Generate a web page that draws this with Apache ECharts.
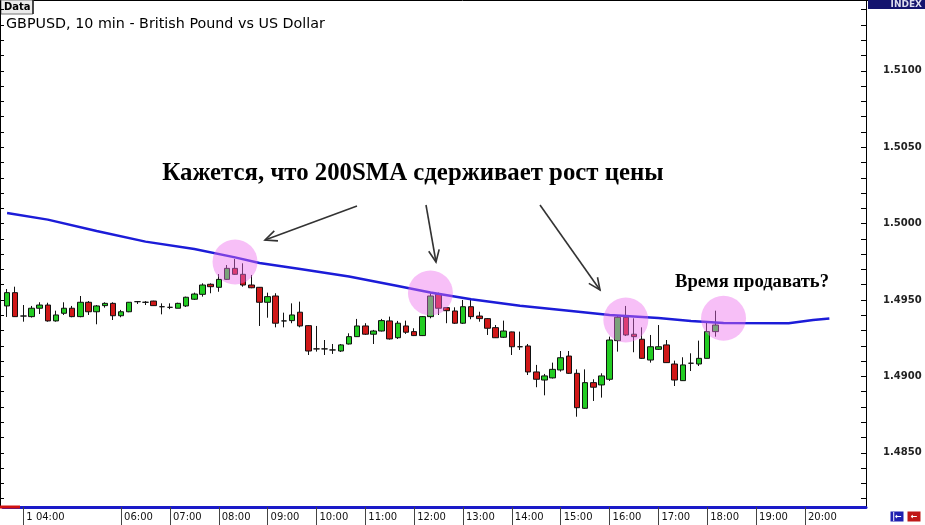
<!DOCTYPE html>
<html><head><meta charset="utf-8">
<script src="https://cdn.jsdelivr.net/npm/echarts@6/dist/echarts.min.js"></script>
<style>html,body{margin:0;padding:0;background:#fff}#c{width:925px;height:525px}</style>
</head><body><div id="c"></div>
<script>
// ---- categories: 10-minute bars starting 03:40 ----
const categoryCount = 106;
const categories = [];
for (let i = 0; i < categoryCount; i++) {
  const m = 3 * 60 + 40 + i * 10;
  categories.push(String(Math.floor(m / 60) % 24).padStart(2, '0') + ':' + String(m % 60).padStart(2, '0'));
}
const hourLabels = ['04:00','06:00','07:00','08:00','09:00','10:00','11:00','12:00','13:00','14:00','15:00','16:00','17:00','18:00','19:00','20:00'];
const firstLabelPrefix = '1 ';

// ---- candle values ----
const candleOpen = [1.49461,1.49548,1.49395,1.49391,1.49446,1.49467,1.49363,1.49413,1.49446,1.49391,
1.49485,1.49423,1.49463,1.49478,1.49397,1.49423,1.49489,1.49485,1.49493,1.49456,
1.49452,1.49446,1.49461,1.49505,1.49537,1.49603,1.49583,1.49635,1.49707,1.49668,
1.49598,1.49583,1.49485,1.49526,1.49363,1.49365,1.4942,1.49332,1.4918,1.4918,
1.49173,1.49166,1.49212,1.4926,1.4933,1.49276,1.49297,1.49363,1.49253,1.4933,
1.49293,1.49267,1.49391,1.49537,1.4945,1.49428,1.49348,1.49456,1.49395,1.49378,
1.49319,1.49256,1.49291,1.49194,1.49199,1.49029,1.48976,1.4899,1.49042,1.49133,
1.4902,1.48791,1.48959,1.48944,1.48981,1.49234,1.49387,1.49276,1.49243,1.49107,
1.49177,1.49206,1.49081,1.48972,1.49086,1.49081,1.49118,1.49293];
const candleClose = [1.49548,1.49391,1.49395,1.49446,1.49467,1.49363,1.49402,1.49446,1.49391,1.49485,
1.49423,1.49461,1.49478,1.49397,1.49423,1.49485,1.49489,1.49485,1.49463,1.49456,
1.49452,1.49478,1.49518,1.49539,1.49598,1.49587,1.49635,1.49707,1.49668,1.49598,
1.4958,1.49485,1.49522,1.49348,1.49363,1.49402,1.4933,1.49166,1.4918,1.4918,
1.49173,1.49206,1.4926,1.4933,1.49276,1.49297,1.49365,1.49245,1.49348,1.49289,
1.49267,1.49391,1.49526,1.49446,1.4943,1.49348,1.49456,1.49391,1.49378,1.49315,
1.49253,1.49297,1.49194,1.49194,1.49029,1.48981,1.49003,1.49046,1.49122,1.4902,
1.48795,1.48959,1.48929,1.49003,1.49238,1.49387,1.49271,1.4926,1.49118,1.49194,
1.49194,1.4909,1.48976,1.49075,1.49086,1.49118,1.49293,1.49336];
const candleLow = [1.49389,1.49389,1.49358,1.49385,1.49408,1.49358,1.49358,1.49402,1.49387,1.49387,
1.49402,1.49341,1.4945,1.49369,1.49387,1.4942,1.49474,1.49467,1.49461,1.49406,
1.4944,1.49446,1.49454,1.495,1.49522,1.49544,1.49554,1.49631,1.49664,1.49587,
1.49577,1.4933,1.49384,1.49321,1.49321,1.49348,1.49321,1.4914,1.49162,1.4914,
1.49147,1.4916,1.49209,1.49258,1.49271,1.49212,1.49294,1.49241,1.49245,1.49278,
1.49264,1.49264,1.4938,1.49402,1.49348,1.49343,1.49343,1.49374,1.49358,1.49271,
1.49251,1.49251,1.4914,1.49173,1.49009,1.48929,1.48876,1.48986,1.49031,1.49016,
1.48736,1.48787,1.48839,1.48861,1.4897,1.49162,1.49264,1.49158,1.49114,1.4909,
1.49173,1.49088,1.48937,1.4897,1.49035,1.49068,1.49117,1.4926];
const candleHigh = [1.49572,1.49587,1.49467,1.49461,1.49485,1.49482,1.4943,1.49485,1.49461,1.49526,
1.49493,1.49467,1.49485,1.49485,1.49435,1.49487,1.49493,1.49493,1.49495,1.49478,
1.49478,1.49482,1.49522,1.49548,1.49609,1.49609,1.4967,1.49729,1.49768,1.4974,
1.49664,1.49585,1.49548,1.49544,1.49417,1.49478,1.49489,1.49336,1.4933,1.49238,
1.49212,1.49212,1.49282,1.49376,1.49348,1.49304,1.49376,1.49391,1.49363,1.49365,
1.49315,1.49395,1.49544,1.49548,1.49452,1.49452,1.495,1.49505,1.49423,1.49382,
1.49336,1.49365,1.49293,1.49293,1.49212,1.49075,1.49016,1.4909,1.49166,1.49166,
1.49046,1.49046,1.48981,1.4902,1.4926,1.49402,1.49461,1.4938,1.49321,1.49271,
1.49336,1.49238,1.49103,1.49125,1.49151,1.49234,1.49351,1.4943];

// ---- 200 SMA (read at selected bars) ----
const smaIndex = [0,5,11,17,23,28,31,36,42,48,52,57,63,69,74,80,84,88,96,99,101];
const smaValue = [1.50069,1.50026,1.49952,1.49882,1.49834,1.49779,1.49742,1.49703,1.49654,1.49592,1.49549,1.49505,1.49462,1.4943,1.49402,1.49382,1.49363,1.4935,1.49348,1.49369,1.49379];

// ---- highlight circles (bar index, price) ----
const circleIndex = [28, 52.2, 75.7, 87.5];
const circlePrice = [1.49749, 1.49546, 1.49369, 1.4938];

// ---- price axis labels ----
const priceLabels = [1.4850, 1.4900, 1.4950, 1.5000, 1.5050, 1.5100];
const priceTicks = [];
for (let v = 1482; v <= 1514; v++) priceTicks.push(v / 1000);

const candleData = candleOpen.map((o, i) => [o, candleClose[i], candleLow[i], candleHigh[i]]);
const smaData = smaIndex.map((x, i) => [x, smaValue[i]]);
const circleData = circleIndex.map((x, i) => [x, circlePrice[i]]);

function arrow(x1, y1, x2, y2) {
  const a = Math.atan2(y2 - y1, x2 - x1), L = 13, s = 0.42;
  return [
    {type: 'line', z: 100, shape: {x1, y1, x2, y2}, style: {stroke: '#333', lineWidth: 1.6}},
    {type: 'polyline', z: 100, shape: {points: [[x2 - L * Math.cos(a - s), y2 - L * Math.sin(a - s)], [x2, y2], [x2 - L * Math.cos(a + s), y2 - L * Math.sin(a + s)]]}, style: {stroke: '#333', lineWidth: 1.6, fill: null}}
  ];
}

const chart = echarts.init(document.getElementById('c'), null, {renderer: 'canvas'});
const isLabel = (idx, val) => hourLabels.indexOf(val) >= 0;
const option = {
  animation: false,
  backgroundColor: '#fff',
  grid: {left: 3, right: 59, top: 1, bottom: 18},
  xAxis: {
    type: 'category', data: categories, boundaryGap: true,
    axisLine: {show: true, lineStyle: {color: '#1a1ac8', width: 3}},
    axisTick: {show: true, interval: isLabel, alignWithLabel: true, length: 18, lineStyle: {color: '#444', width: 1}},
    axisLabel: {interval: isLabel, align: 'left', margin: 5, padding: [0, 0, 0, 3],
      formatter: v => (v === '04:00' ? firstLabelPrefix + v : v),
      fontFamily: 'DejaVu Sans', fontSize: 10, color: '#111'},
    splitLine: {show: false}
  },
  yAxis: [{
    type: 'value', position: 'right', min: 1.48145, max: 1.51457, scale: true,
    axisLine: {show: true, lineStyle: {color: '#000', width: 1}},
    axisTick: {show: true, inside: true, length: 5, customValues: priceTicks, lineStyle: {color: '#000'}},
    axisLabel: {customValues: priceLabels, formatter: v => v.toFixed(4), margin: 17,
      fontFamily: 'DejaVu Sans', fontWeight: 'bold', fontSize: 10, color: '#222'},
    splitLine: {show: false}
  }, {
    type: 'value', position: 'left', offset: 3, min: 1.48145, max: 1.51457, scale: true,
    axisLine: {show: true, lineStyle: {color: '#000', width: 1}},
    axisTick: {show: true, inside: true, length: 4, customValues: priceTicks, lineStyle: {color: '#000'}},
    axisLabel: {show: false},
    splitLine: {show: false}
  }],
  series: [{
    type: 'candlestick', data: candleData, barWidth: 6, z: 2,
    itemStyle: {color: '#22cc22', color0: '#d01818', borderColor: '#111', borderColor0: '#111', borderColorDoji: '#111', borderWidth: 1}
  }, {
    type: 'line', data: smaData, showSymbol: false, symbol: 'none', z: 3,
    lineStyle: {color: '#1c1cd8', width: 2.5}
  }, {
    type: 'scatter', data: circleData, symbol: 'circle', symbolSize: 45, z: 5, silent: true,
    itemStyle: {color: 'rgba(236,110,236,0.55)'}
  }],
  graphic: [
    {type: 'line', shape: {x1: 0, y1: 0.5, x2: 925, y2: 0.5}, style: {stroke: '#000', lineWidth: 1}},
    {type: 'rect', shape: {x: 1, y: 0, width: 32, height: 14}, style: {fill: '#ececec', stroke: '#777', lineWidth: 1}},
    {type: 'line', shape: {x1: 33, y1: 0, x2: 33, y2: 14}, style: {stroke: '#222', lineWidth: 1.5}},
    {type: 'text', x: 4, y: 7, style: {text: 'Data', fontFamily: 'DejaVu Sans', fontWeight: 'bold', fontSize: 10, fill: '#000', verticalAlign: 'middle'}},
    {type: 'text', x: 6, y: 24, style: {text: 'GBPUSD, 10 min - British Pound vs US Dollar', fontFamily: 'DejaVu Sans', fontSize: 14.3, fill: '#000', verticalAlign: 'middle'}},
    {type: 'rect', shape: {x: 868, y: 0, width: 57, height: 9}, style: {fill: '#14146e'}},
    {type: 'text', x: 922, y: 5, style: {text: 'INDEX', fontFamily: 'DejaVu Sans', fontWeight: 'bold', fontSize: 9, fill: '#dde', align: 'right', verticalAlign: 'middle'}},
    {type: 'text', x: 413, y: 174, z: 100, style: {text: 'Кажется, что 200SMA сдерживает рост цены', fontFamily: 'Liberation Serif', fontWeight: 'bold', fontSize: 24.8, fill: '#000', align: 'center', verticalAlign: 'middle'}},
    {type: 'text', x: 752, y: 282, z: 100, style: {text: 'Время продавать?', fontFamily: 'Liberation Serif', fontWeight: 'bold', fontSize: 18.6, fill: '#000', align: 'center', verticalAlign: 'middle'}},
    ...arrow(357, 206, 265, 240),
    ...arrow(426, 205, 436, 262),
    ...arrow(540, 205, 600, 290),
    {type: 'line', shape: {x1: 0, y1: 507, x2: 20, y2: 507}, style: {stroke: '#d01010', lineWidth: 3}, z: 100},
    {type: 'rect', shape: {x: 890, y: 511, width: 14, height: 11}, style: {fill: '#2020b0', stroke: '#fff', lineWidth: 1}},
    {type: 'text', x: 897, y: 516.5, style: {text: '|←', fontFamily: 'DejaVu Sans', fontWeight: 'bold', fontSize: 8, fill: '#fff', align: 'center', verticalAlign: 'middle'}},
    {type: 'rect', shape: {x: 907, y: 511, width: 14, height: 11}, style: {fill: '#c01818', stroke: '#fff', lineWidth: 1}},
    {type: 'text', x: 914, y: 516.5, style: {text: '←', fontFamily: 'DejaVu Sans', fontWeight: 'bold', fontSize: 8, fill: '#fff', align: 'center', verticalAlign: 'middle'}}
  ]
};
chart.setOption(option);
</script></body></html>
